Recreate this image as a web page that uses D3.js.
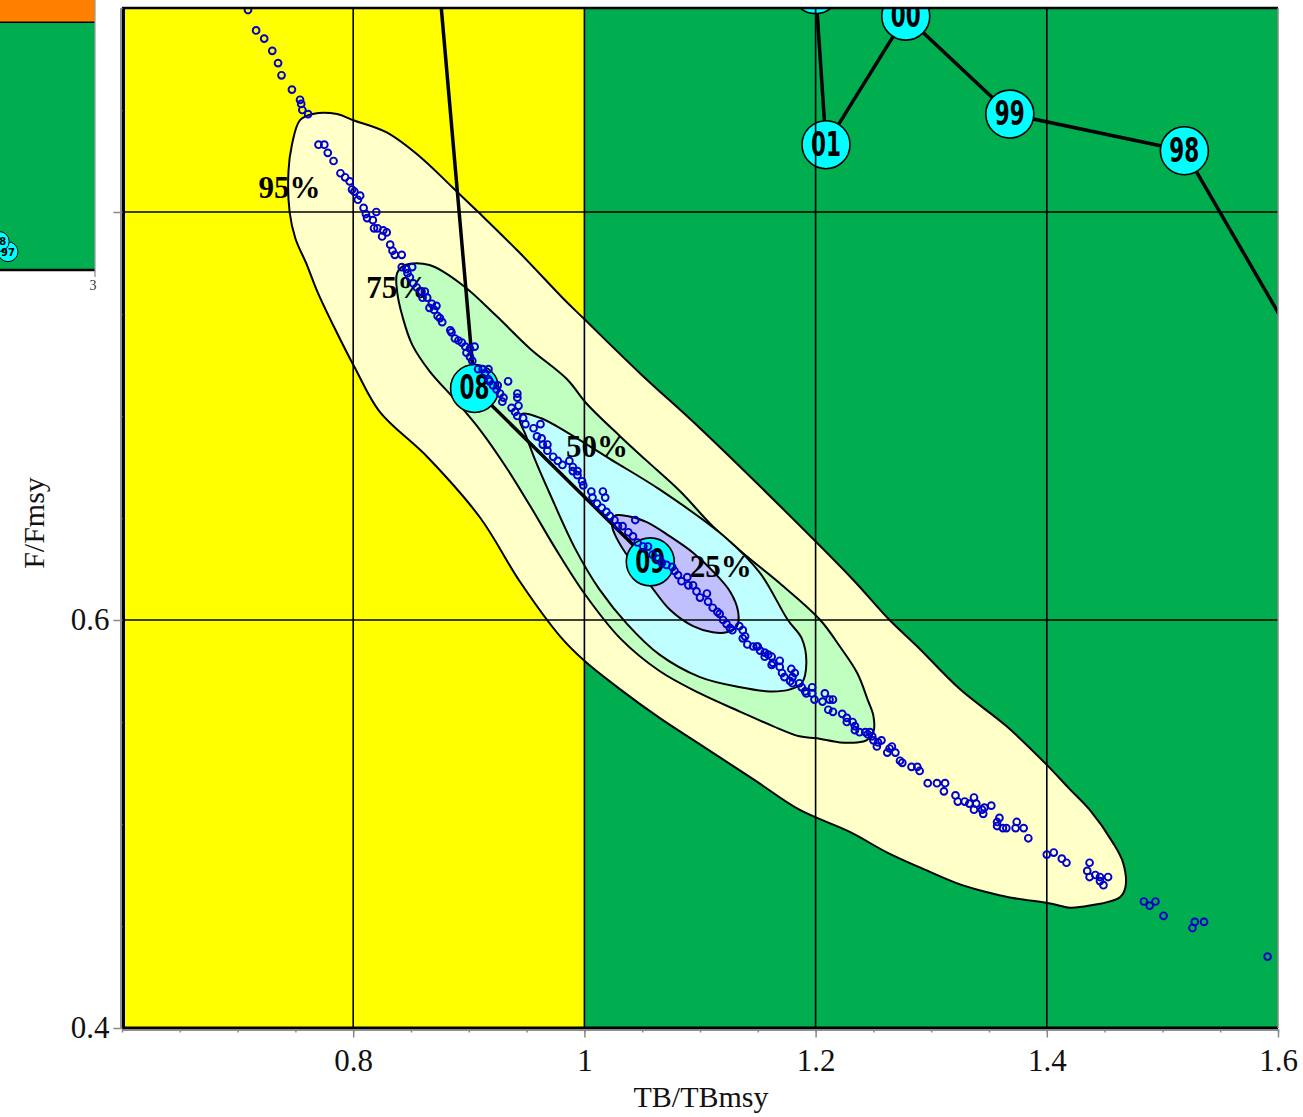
<!DOCTYPE html>
<html><head><meta charset="utf-8">
<script src="https://cdn.jsdelivr.net/npm/d3@7"></script>
<style>
html,body{margin:0;padding:0;background:#fff;}
svg{display:block;}
</style></head><body>
<svg id="chart" width="1303" height="1117"></svg>
<script>
// ---------- data ----------
const xDomain = [0.6, 1.6];
const yDomain = [0.4, 0.9];
const xTicks = [0.8, 1, 1.2, 1.4, 1.6];
const xTickLabels = ["0.8", "1", "1.2", "1.4", "1.6"];
const yTicks = [0.4, 0.6, 0.8];
const yTickLabels = ["0.4", "0.6", ""];
const xGrid = [0.8, 1.0, 1.2, 1.4];
const yGrid = [0.6, 0.8];
const zoneBreakTB = 1.0;
const xTitle = "TB/TBmsy";
const yTitle = "F/Fmsy";

const years  = ["97", "98", "99", "00", "01", "02", "07", "08", "09"];
const trajTB = [1.654, 1.519, 1.368, 1.278, 1.209, 1.200, 0.864, 0.905, 1.057];
const trajF  = [0.698, 0.830, 0.848, 0.896, 0.833, 0.909, 0.979, 0.7135, 0.6285];

const samplePoints = [
[0.709,0.899],[0.716,0.889],[0.723,0.885],[0.730,0.879],[0.735,0.873],[0.738,0.867],[0.747,0.860],[0.754,0.855],[0.755,0.853],[0.756,0.850],
[0.761,0.848],[0.770,0.833],[0.775,0.833],[0.778,0.829],[0.783,0.825],[0.789,0.819],[0.793,0.817],[0.797,0.815],[0.799,0.811],[0.801,0.810],
[0.806,0.808],[0.804,0.806],[0.809,0.802],[0.820,0.800],[0.811,0.799],[0.812,0.797],[0.817,0.796],[0.818,0.792],[0.821,0.792],[0.826,0.791],
[0.829,0.790],[0.825,0.788],[0.832,0.784],[0.834,0.781],[0.836,0.779],[0.842,0.779],[0.842,0.773],[0.846,0.772],[0.851,0.773],[0.847,0.770],
[0.849,0.768],[0.852,0.765],[0.855,0.763],[0.859,0.761],[0.862,0.761],[0.864,0.758],[0.868,0.755],[0.872,0.754],[0.870,0.752],[0.873,0.749],
[0.877,0.746],[0.860,0.758],[0.866,0.753],[0.875,0.748],[0.884,0.742],[0.885,0.741],[0.888,0.738],[0.891,0.737],[0.894,0.736],[0.897,0.734],
[0.901,0.733],[0.905,0.734],[0.898,0.731],[0.901,0.729],[0.903,0.727],[0.908,0.723],[0.912,0.723],[0.917,0.723],[0.914,0.721],[0.917,0.718],
[0.918,0.717],[0.921,0.715],[0.925,0.715],[0.924,0.713],[0.927,0.711],[0.934,0.717],[0.930,0.709],[0.929,0.707],[0.942,0.711],[0.942,0.709],
[0.943,0.705],[0.937,0.704],[0.940,0.702],[0.942,0.700],[0.947,0.699],[0.949,0.696],[0.956,0.694],[0.962,0.696],[0.959,0.690],[0.963,0.689],
[0.964,0.686],[0.968,0.686],[0.968,0.683],[0.973,0.680],[0.977,0.678],[0.981,0.676],[0.987,0.678],[0.990,0.675],[0.994,0.673],[0.990,0.673],
[0.994,0.671],[0.998,0.668],[0.999,0.666],[1.006,0.663],[1.016,0.663],[1.018,0.660],[1.007,0.660],[1.011,0.657],[1.015,0.655],[1.019,0.653],
[1.022,0.651],[1.026,0.649],[1.029,0.646],[1.033,0.646],[1.038,0.643],[1.044,0.649],[1.042,0.641],[1.046,0.638],[1.051,0.636],[1.055,0.636],
[1.059,0.632],[1.064,0.630],[1.067,0.628],[1.071,0.627],[1.076,0.626],[1.078,0.624],[1.081,0.622],[1.084,0.619],[1.089,0.621],[1.090,0.617],
[1.094,0.617],[1.097,0.614],[1.100,0.611],[1.106,0.613],[1.107,0.609],[1.111,0.606],[1.115,0.604],[1.117,0.603],[1.120,0.600],[1.123,0.598],
[1.126,0.596],[1.128,0.595],[1.134,0.597],[1.137,0.595],[1.139,0.592],[1.149,0.587],[1.152,0.585],[1.156,0.584],[1.159,0.583],[1.137,0.591],
[1.141,0.588],[1.146,0.587],[1.150,0.587],[1.156,0.582],[1.162,0.582],[1.163,0.579],[1.162,0.578],[1.169,0.580],[1.169,0.577],[1.171,0.574],
[1.173,0.572],[1.179,0.576],[1.182,0.574],[1.180,0.572],[1.178,0.570],[1.180,0.569],[1.186,0.569],[1.188,0.567],[1.191,0.565],[1.197,0.567],
[1.192,0.564],[1.197,0.564],[1.199,0.561],[1.208,0.564],[1.206,0.560],[1.212,0.561],[1.215,0.561],[1.211,0.556],[1.215,0.555],[1.223,0.554],
[1.227,0.552],[1.227,0.550],[1.232,0.550],[1.234,0.548],[1.234,0.546],[1.238,0.545],[1.243,0.545],[1.245,0.544],[1.249,0.543],[1.250,0.541],
[1.254,0.540],[1.253,0.538],[1.257,0.541],[1.262,0.535],[1.266,0.538],[1.269,0.535],[1.275,0.530],[1.283,0.528],[1.288,0.528],[1.290,0.526],
[1.247,0.545],[1.264,0.537],[1.273,0.531],[1.297,0.520],[1.305,0.520],[1.312,0.520],[1.311,0.516],[1.321,0.514],[1.323,0.511],[1.329,0.511],
[1.333,0.510],[1.337,0.513],[1.339,0.510],[1.337,0.507],[1.344,0.507],[1.345,0.505],[1.346,0.508],[1.352,0.509],[1.357,0.501],[1.359,0.503],
[1.357,0.499],[1.362,0.498],[1.365,0.498],[1.374,0.501],[1.373,0.498],[1.380,0.498],[1.384,0.493],[1.400,0.485],[1.406,0.486],[1.413,0.483],
[1.417,0.481],[1.437,0.481],[1.435,0.477],[1.437,0.474],[1.442,0.475],[1.446,0.474],[1.446,0.472],[1.449,0.470],[1.453,0.474],[1.484,0.462],
[1.489,0.460],[1.494,0.462],[1.501,0.455],[1.526,0.449],[1.528,0.452],[1.536,0.452],[1.591,0.435]
];

const contourLevels = ["95%", "75%", "50%", "25%"];
const contour95 = [
[0.765,0.848],[0.786,0.848],[0.800,0.845],[0.829,0.839],[0.858,0.827],[0.886,0.812],[0.910,0.799],[0.944,0.780],[0.981,0.758],[0.999,0.748],
[1.048,0.721],[1.100,0.694],[1.169,0.656],[1.232,0.620],[1.264,0.600],[1.288,0.587],[1.325,0.566],[1.365,0.548],[1.400,0.529],[1.420,0.517],
[1.437,0.507],[1.457,0.491],[1.466,0.481],[1.468,0.469],[1.463,0.464],[1.437,0.460],[1.420,0.459],[1.403,0.461],[1.368,0.464],[1.345,0.467],
[1.322,0.471],[1.293,0.478],[1.262,0.486],[1.230,0.496],[1.186,0.507],[1.146,0.522],[1.100,0.539],[1.065,0.552],[1.031,0.566],[1.000,0.580],
[0.979,0.592],[0.944,0.619],[0.910,0.650],[0.864,0.680],[0.823,0.702],[0.802,0.723],[0.784,0.743],[0.769,0.761],[0.760,0.774],[0.750,0.787],
[0.745,0.800],[0.744,0.820],[0.747,0.833],[0.754,0.845]
];
const contour75 = [
[0.845,0.774],[0.866,0.774],[0.895,0.764],[0.924,0.749],[0.953,0.733],[0.985,0.718],[1.002,0.706],[1.031,0.690],[1.054,0.678],[1.083,0.663],
[1.111,0.646],[1.141,0.631],[1.169,0.618],[1.204,0.600],[1.221,0.587],[1.236,0.574],[1.245,0.561],[1.250,0.553],[1.250,0.545],[1.244,0.541],
[1.236,0.540],[1.221,0.540],[1.201,0.542],[1.186,0.543],[1.163,0.548],[1.135,0.555],[1.100,0.564],[1.065,0.575],[1.031,0.591],[1.000,0.613],
[0.975,0.635],[0.953,0.656],[0.931,0.676],[0.910,0.693],[0.888,0.708],[0.866,0.722],[0.851,0.735],[0.843,0.748],[0.838,0.761],[0.838,0.770]
];
const contour50 = [
[0.946,0.701],[0.962,0.699],[0.985,0.692],[1.022,0.679],[1.065,0.664],[1.123,0.640],[1.152,0.623],[1.176,0.600],[1.188,0.591],[1.192,0.579],
[1.188,0.569],[1.178,0.566],[1.160,0.565],[1.135,0.567],[1.100,0.572],[1.065,0.583],[1.037,0.598],[1.013,0.615],[0.992,0.635],[0.970,0.662],
[0.957,0.679],[0.949,0.691],[0.944,0.698]
];
const contour25 = [
[1.026,0.651],[1.037,0.651],[1.054,0.648],[1.074,0.641],[1.094,0.633],[1.111,0.624],[1.126,0.614],[1.133,0.604],[1.132,0.597],[1.123,0.594],
[1.111,0.594],[1.094,0.597],[1.074,0.605],[1.057,0.617],[1.039,0.630],[1.028,0.640],[1.024,0.646]
];
const contourLabelPos = [[0.745, 0.807], [0.838, 0.758], [1.011, 0.680], [1.118, 0.621]];

// inset (partial overview panel, top-left)
const insetXDomain = [0, 3];
const insetYDomain = [0.46, 3.97];
const insetOrangeFrom = 3.68;
const insetTickValue = 3;
const insetTickLabel = "3";

// ---------- drawing ----------
const svg = d3.select("#chart");
const L = 122, R = 1278, T = 8, B = 1028;
const serif = "'Liberation Serif','Times New Roman',Times,serif";
const narrow = "'Liberation Sans Narrow','Arial Narrow','DejaVu Sans Condensed',sans-serif";

const x = d3.scaleLinear().domain(xDomain).range([L, R]);
const y = d3.scaleLinear().domain(yDomain).range([B, T]);

svg.append("defs").append("clipPath").attr("id", "clip")
  .append("rect").attr("x", L).attr("y", T).attr("width", R - L).attr("height", B - T);

const plot = svg.append("g").attr("clip-path", "url(#clip)");

// zones
plot.append("rect").attr("x", x(xDomain[0])).attr("y", y(yDomain[1]))
  .attr("width", x(zoneBreakTB) - x(xDomain[0])).attr("height", y(yDomain[0]) - y(yDomain[1]))
  .attr("fill", "#ffff00");
plot.append("rect").attr("x", x(zoneBreakTB)).attr("y", y(yDomain[1]))
  .attr("width", x(xDomain[1]) - x(zoneBreakTB)).attr("height", y(yDomain[0]) - y(yDomain[1]))
  .attr("fill", "#00ad4f");

// contours
const contourFills = ["#ffffc8", "#c0ffc0", "#c0ffff", "#c0c0ff"];
const cLine = d3.line().x(d => x(d[0])).y(d => y(d[1])).curve(d3.curveCatmullRomClosed.alpha(0.5));
[contour95, contour75, contour50, contour25].forEach((c, i) => {
  plot.append("path").attr("d", cLine(c)).attr("fill", contourFills[i])
    .attr("stroke", "#000").attr("stroke-width", 2).attr("stroke-linejoin", "round");
});

// contour labels
plot.selectAll("text.clab").data(contourLevels).join("text").attr("class", "clab")
  .attr("x", (d, i) => x(contourLabelPos[i][0])).attr("y", (d, i) => y(contourLabelPos[i][1]))
  .attr("text-anchor", "middle").attr("font-family", serif).attr("font-weight", "bold")
  .attr("font-size", 31).attr("fill", "#000").text(d => d);

// trajectory
const traj = years.map((yr, i) => ({ yr, tb: trajTB[i], f: trajF[i] }));
plot.append("path").datum(traj)
  .attr("d", d3.line().x(d => x(d.tb)).y(d => y(d.f)))
  .attr("fill", "none").attr("stroke", "#000").attr("stroke-width", 3.5).attr("stroke-linejoin", "round");
plot.selectAll("circle.yr").data(traj).join("circle").attr("class", "yr")
  .attr("cx", d => x(d.tb)).attr("cy", d => y(d.f)).attr("r", 24)
  .attr("fill", "#00ffff").attr("stroke", "#000").attr("stroke-width", 1.6);
plot.selectAll("text.yr").data(traj).join("text").attr("class", "yr")
  .attr("x", d => x(d.tb)).attr("y", d => y(d.f)).attr("dy", "0.33em")
  .attr("text-anchor", "middle").attr("font-family", narrow).attr("font-weight", "bold")
  .attr("font-size", 33).attr("textLength", 30).attr("lengthAdjust", "spacingAndGlyphs")
  .attr("fill", "#000").text(d => d.yr);

// grid
plot.selectAll("line.gx").data(xGrid).join("line").attr("class", "gx")
  .attr("x1", d => x(d)).attr("x2", d => x(d)).attr("y1", T).attr("y2", B)
  .attr("stroke", "#000").attr("stroke-width", 1.6);
plot.selectAll("line.gy").data(yGrid).join("line").attr("class", "gy")
  .attr("y1", d => y(d)).attr("y2", d => y(d)).attr("x1", L).attr("x2", R)
  .attr("stroke", "#000").attr("stroke-width", 1.6);

// sample points
plot.selectAll("circle.pt").data(samplePoints).join("circle").attr("class", "pt")
  .attr("cx", d => x(d[0])).attr("cy", d => y(d[1])).attr("r", 3.4)
  .attr("fill", "none").attr("stroke", "#0000cc").attr("stroke-width", 1.9);

// border
svg.append("line").attr("x1", L + 1.5).attr("x2", L + 1.5).attr("y1", T).attr("y2", B + 1.5).attr("stroke", "#000").attr("stroke-width", 3);
svg.append("line").attr("x1", L).attr("x2", R).attr("y1", B).attr("y2", B).attr("stroke", "#000").attr("stroke-width", 3);
svg.append("line").attr("x1", L).attr("x2", R).attr("y1", T).attr("y2", T).attr("stroke", "#000").attr("stroke-width", 2.5);
svg.append("line").attr("x1", R).attr("x2", R).attr("y1", T).attr("y2", B).attr("stroke", "#888").attr("stroke-width", 1.5);

// axes
const gx = svg.append("g").attr("transform", `translate(0,${B + 1.5})`)
  .call(d3.axisBottom(x).tickValues(xTicks).tickFormat((d, i) => xTickLabels[i]).tickSize(8).tickSizeOuter(0).tickPadding(11));
const gxm = svg.append("g").attr("transform", `translate(0,${B + 1.5})`)
  .call(d3.axisBottom(x).tickValues(d3.range(12, 33).map(v => v / 20)).tickFormat("").tickSize(3).tickSizeOuter(0));
const gy = svg.append("g").attr("transform", `translate(${L - 1.5},0)`)
  .call(d3.axisLeft(y).tickValues(yTicks).tickFormat((d, i) => yTickLabels[i]).tickSize(7).tickSizeOuter(0).tickPadding(4));
const gym = svg.append("g").attr("transform", `translate(${L - 1.5},0)`)
  .call(d3.axisRight(y).tickValues(d3.range(8, 19).map(v => v / 20)).tickFormat("").tickSize(2).tickSizeOuter(0));
[gx, gxm, gy, gym].forEach(g => {
  g.select(".domain").attr("stroke", "#888").attr("stroke-width", 1.5);
  g.selectAll(".tick line").attr("stroke", "#888").attr("stroke-width", 1.5);
  g.selectAll(".tick text").attr("font-family", serif).attr("font-size", 31).attr("fill", "#111");
});

// titles
svg.append("text").attr("x", (L + R) / 2 + 1).attr("y", 1107).attr("text-anchor", "middle")
  .attr("font-family", serif).attr("font-size", 30).attr("fill", "#111").text(xTitle);
svg.append("text").attr("transform", `translate(44,${(T + B) / 2 + 5}) rotate(-90)`).attr("text-anchor", "middle")
  .attr("font-family", serif).attr("font-size", 30).attr("fill", "#111").text(yTitle);

// inset
const IW = 95, IH = 270;
const ix = d3.scaleLinear().domain(insetXDomain).range([-99, IW]);
const iy = d3.scaleLinear().domain(insetYDomain).range([IH, 0]);
svg.select("defs").append("clipPath").attr("id", "iclip")
  .append("rect").attr("x", 0).attr("y", 0).attr("width", IW).attr("height", IH);
const inset = svg.append("g");
const ig = inset.append("g").attr("clip-path", "url(#iclip)");
ig.append("rect").attr("x", 0).attr("y", iy(insetYDomain[1])).attr("width", IW).attr("height", iy(insetOrangeFrom) - iy(insetYDomain[1])).attr("fill", "#ff8000");
ig.append("rect").attr("x", 0).attr("y", iy(insetOrangeFrom)).attr("width", IW).attr("height", iy(insetYDomain[0]) - iy(insetOrangeFrom)).attr("fill", "#00ad4f");
ig.append("line").attr("x1", 0).attr("x2", IW).attr("y1", iy(insetOrangeFrom)).attr("y2", iy(insetOrangeFrom)).attr("stroke", "#000").attr("stroke-width", 1.5);
ig.append("path").datum(traj).attr("d", d3.line().x(d => ix(d.tb)).y(d => iy(d.f)))
  .attr("fill", "none").attr("stroke", "#000").attr("stroke-width", 1);
ig.selectAll("circle").data(traj).join("circle").attr("cx", d => ix(d.tb)).attr("cy", d => iy(d.f)).attr("r", 10)
  .attr("fill", "#00ffff").attr("stroke", "#000").attr("stroke-width", 1);
ig.selectAll("text").data(traj).join("text").attr("x", d => ix(d.tb)).attr("y", d => iy(d.f)).attr("dy", "0.35em")
  .attr("text-anchor", "middle").attr("font-family", narrow).attr("font-weight", "bold").attr("font-size", 11).text(d => d.yr);
inset.append("line").attr("x1", 0).attr("x2", IW).attr("y1", IH).attr("y2", IH).attr("stroke", "#000").attr("stroke-width", 2.5);
inset.append("line").attr("x1", IW).attr("x2", IW).attr("y1", 0).attr("y2", IH).attr("stroke", "#999").attr("stroke-width", 1.2);
inset.append("line").attr("x1", ix(insetTickValue)).attr("x2", ix(insetTickValue)).attr("y1", IH).attr("y2", IH + 7).attr("stroke", "#888").attr("stroke-width", 1.2);
inset.append("text").attr("x", ix(insetTickValue) - 2).attr("y", IH + 20).attr("text-anchor", "middle")
  .attr("font-family", serif).attr("font-size", 14).attr("fill", "#333").text(insetTickLabel);
</script>
</body></html>
